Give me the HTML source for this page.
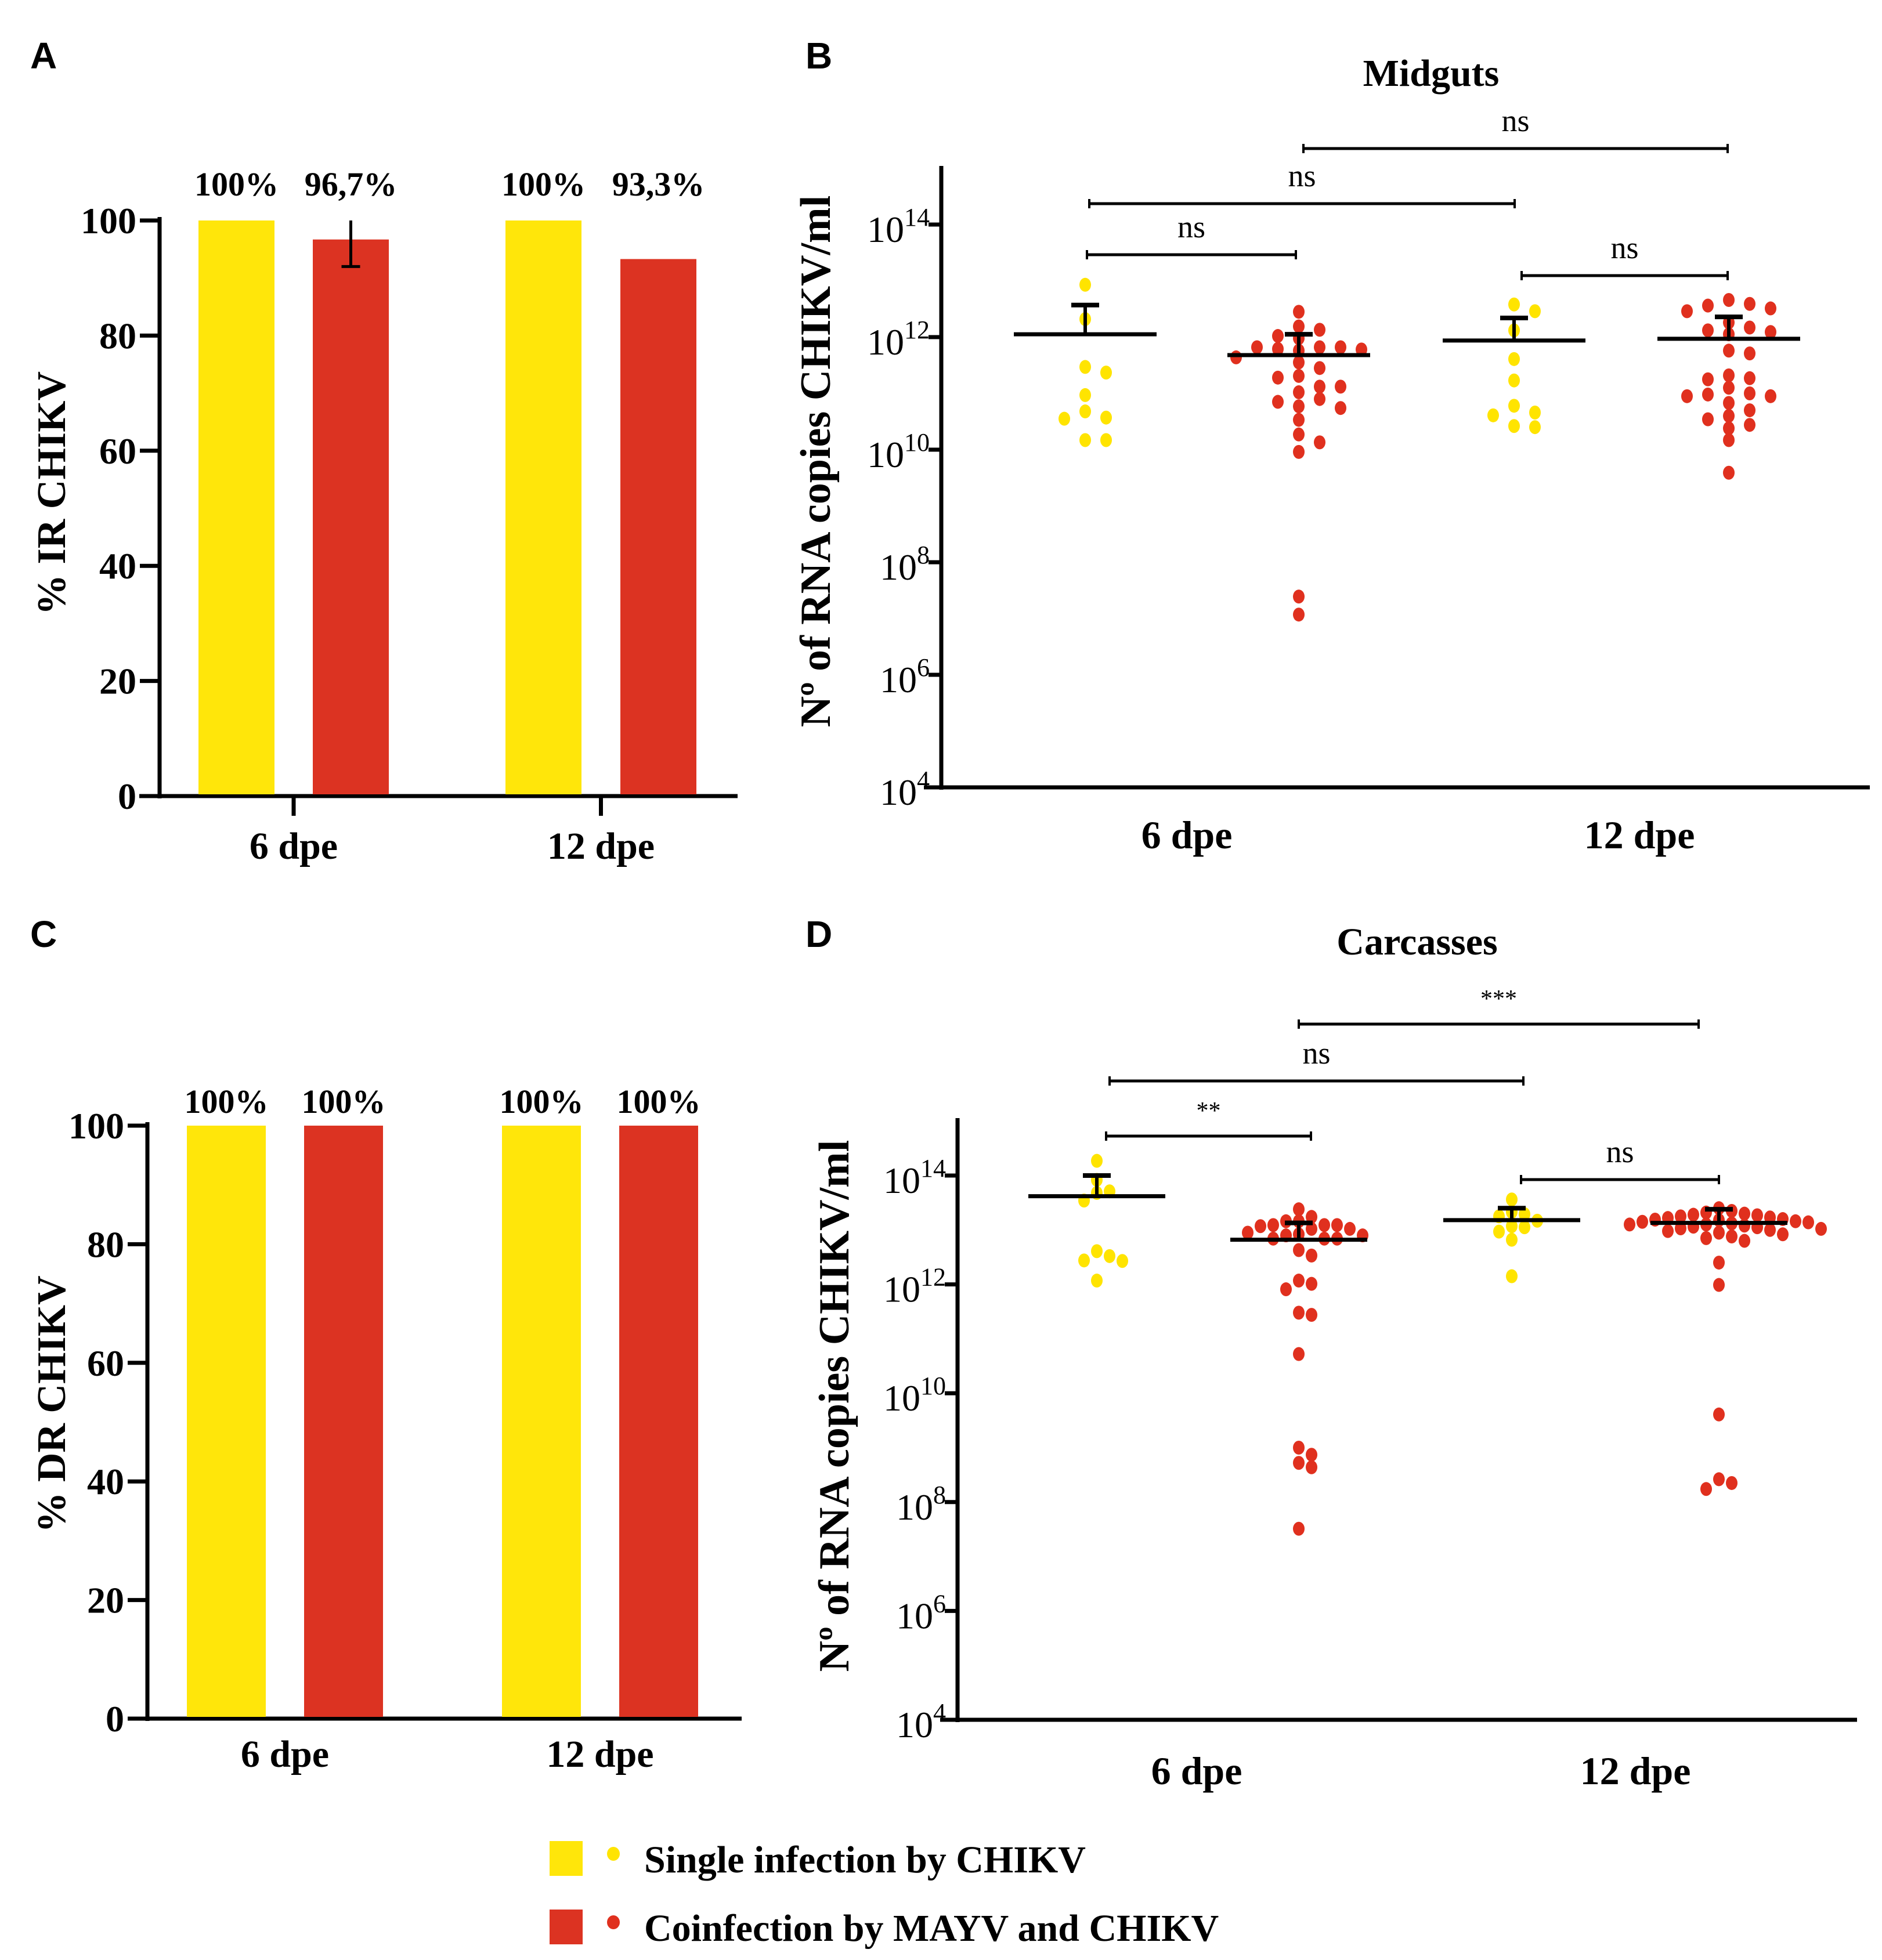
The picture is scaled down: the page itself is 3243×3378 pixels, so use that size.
<!DOCTYPE html>
<html><head><meta charset="utf-8"><style>
html,body{margin:0;padding:0;background:#fff;}
svg{display:block;}
text{font-family:"Liberation Serif",serif;}
text.sans{font-family:"Liberation Sans",sans-serif;}
</style></head><body>
<svg id="fig" width="3243" height="3378" viewBox="0 0 3243 3378" xmlns="http://www.w3.org/2000/svg"></svg>
<script>
// ---- Data ----
const barCategories = ["6 dpe", "12 dpe"];
const irSingle = [100, 100];
const irCoinf = [96.7, 93.3];
const irLabelsSingle = ["100%", "100%"];
const irLabelsCoinf = ["96,7%", "93,3%"];
const irCoinfErrLow = [92, null];
const drSingle = [100, 100];
const drCoinf = [100, 100];
const drLabelsSingle = ["100%", "100%"];
const drLabelsCoinf = ["100%", "100%"];
const pctTicks = [0, 20, 40, 60, 80, 100];
const logTicks = [4, 6, 8, 10, 12, 14];

const midSingle6 = [12.93, 12.32, 11.47, 11.37, 10.97, 10.68, 10.55, 10.57, 10.17, 10.17];
const midCoinf6 = [12.45, 12.13, 12.19, 11.98, 12.02, 11.82, 11.82, 11.78, 11.82, 11.76, 11.79, 11.64, 11.55, 11.45, 11.28, 11.31, 11.12, 11.12, 11.02, 10.90, 10.85, 10.74, 10.77, 10.53, 10.27, 10.13, 9.96, 7.39, 7.07];
const midSingle12 = [12.58, 12.46, 12.12, 11.61, 11.23, 10.78, 10.61, 10.66, 10.40, 10.42];
const midCoinf12 = [12.66, 12.51, 12.59, 12.56, 12.46, 12.26, 12.12, 12.05, 12.09, 12.17, 11.76, 11.71, 11.27, 11.25, 11.32, 10.95, 10.95, 10.98, 11.00, 11.10, 10.70, 10.83, 10.44, 10.54, 10.60, 10.38, 10.17, 9.59];
const midMeans = [12.05, 11.68, 11.94, 11.97];
const midSemTop = [12.57, 12.05, 12.34, 12.36];

const carSingle6 = [14.27, 13.92, 13.71, 13.68, 13.54, 12.52, 12.43, 12.44, 12.61, 12.07];
const carCoinf6 = [13.38, 13.24, 13.16, 13.16, 13.09, 13.09, 13.07, 13.09, 13.02, 13.02, 12.95, 12.92, 12.90, 12.90, 12.84, 12.84, 12.84, 12.63, 12.53, 12.01, 12.07, 11.91, 11.44, 11.48, 10.72, 9.00, 8.87, 8.72, 8.64, 7.51];
const carSingle12 = [13.56, 13.33, 13.29, 13.25, 13.17, 13.05, 13.07, 12.97, 12.82, 12.15];
const carCoinf12 = [13.40, 13.35, 13.30, 13.28, 13.25, 13.22, 13.20, 13.18, 13.16, 13.15, 13.14, 13.12, 13.10, 13.10, 13.08, 13.06, 13.05, 13.03, 13.02, 13.00, 12.98, 12.95, 12.92, 12.88, 12.85, 12.80, 13.32, 13.27, 13.23, 13.19, 12.40, 11.99, 9.61, 8.24, 8.42, 8.35];
const carMeans = [13.62, 12.82, 13.18, 13.13];
const carSemTop = [14.0, 13.13, 13.40, 13.38];

const YEL = "#FFE60A", RED = "#DC3322", DOTY = "#FFE400", DOTR = "#E0301E";
const svg = document.getElementById("fig");
const NS = "http://www.w3.org/2000/svg";
function mk(tag, attrs, parent) {
  const e = document.createElementNS(NS, tag);
  for (const k in attrs) e.setAttribute(k, attrs[k]);
  (parent || svg).appendChild(e);
  return e;
}
function txt(s, x, y, size, weight, anchor, parent) {
  const t = mk("text", {x: x, y: y, "font-size": size, "font-weight": weight, "text-anchor": anchor || "middle", fill: "#000"}, parent);
  t.textContent = s;
  return t;
}

// ---- Panel letters ----
[["A",52,118],["B",1388,118],["C",52,1632],["D",1388,1632]].forEach(p => {
  const t = mk("text", {x: p[1], y: p[2], "font-size": 64, "font-weight": "bold", "class": "sans"});
  
  
  t.textContent = p[0];
});

// ---- Bar panels ----
function barPanel(cfg) {
  const g = mk("g", {});
  
  
  const y = p => cfg.y0 - (p / 100) * (cfg.y0 - cfg.y100);
  const ya = mk("line", {x1: cfg.ax, y1: y(100) - 6, x2: cfg.ax, y2: cfg.y0 + 4, stroke: "#000", "stroke-width": 7}, g);
  
  
  const xa = mk("line", {x1: cfg.xl, y1: cfg.y0, x2: cfg.xr, y2: cfg.y0, stroke: "#000", "stroke-width": 7}, g);
  
  
  pctTicks.forEach(v => {
    mk("line", {x1: cfg.ax - 34, y1: y(v), x2: cfg.ax, y2: y(v), stroke: "#000", "stroke-width": 7}, g);
    const t = txt(String(v), cfg.ax - 40, y(v) + 22, 64, "bold", "end", g);
    
    
  });
  barCategories.forEach((c, i) => {
    const x1 = cfg.bx[i*2], x2 = cfg.bx[i*2+1];
    const b1 = mk("rect", {x: x1, y: y(cfg.single[i]), width: cfg.bw, height: y(0) - y(cfg.single[i]) - 3, fill: YEL}, g);
    
    
    const b2 = mk("rect", {x: x2, y: y(cfg.coinf[i]), width: cfg.bw, height: y(0) - y(cfg.coinf[i]) - 3, fill: RED}, g);
    
    
    const l1 = txt(cfg.lblS[i], x1 + cfg.bw/2, cfg.lblY, 58, "bold", "middle", g);
    
    
    const l2 = txt(cfg.lblC[i], x2 + cfg.bw/2, cfg.lblY, 58, "bold", "middle", g);
    
    
    if (cfg.err && cfg.err[i] != null) {
      const cx = x2 + cfg.bw/2;
      mk("line", {x1: cx, y1: y(100), x2: cx, y2: y(cfg.err[i]), stroke: "#000", "stroke-width": 5}, g);
      mk("line", {x1: cx - 16, y1: y(cfg.err[i]), x2: cx + 16, y2: y(cfg.err[i]), stroke: "#000", "stroke-width": 5}, g);
    }
    const cx = (x1 + x2 + cfg.bw) / 2;
    if (cfg.ticks) mk("line", {x1: cx, y1: cfg.y0, x2: cx, y2: cfg.y0 + 34, stroke: "#000", "stroke-width": 7}, g);
    const xl = txt(c, cx, cfg.catY, 66, "bold", "middle", g);
    
    
  });
  const yt = mk("text", {x: 0, y: 0, "font-size": 70, "font-weight": "bold", "text-anchor": "middle", transform: `translate(${cfg.titleX},${cfg.titleY}) rotate(-90)`}, g);
  yt.textContent = cfg.title;
  
  
}
barPanel({name: "panel-a-ir-chart", ax: 275, y0: 1372, y100: 380, xl: 240, xr: 1271, bx: [342, 539, 871, 1069], bw: 131,
  single: irSingle, coinf: irCoinf, lblS: irLabelsSingle, lblC: irLabelsCoinf, err: irCoinfErrLow, lblY: 337, catY: 1480, ticks: true,
  title: "% IR CHIKV", titleX: 112, titleY: 850});
barPanel({name: "panel-c-dr-chart", ax: 254, y0: 2962, y100: 1940, xl: 228, xr: 1278, bx: [322, 524, 865, 1067], bw: 136,
  single: drSingle, coinf: drCoinf, lblS: drLabelsSingle, lblC: drLabelsCoinf, err: null, lblY: 1918, catY: 3045, ticks: false,
  title: "% DR CHIKV", titleX: 112, titleY: 2420});

// ---- Scatter panels ----
function swarm(vals, cx, ys, step, r) {
  const placed = [];
  const order = vals.map((v, i) => i).sort((a, b) => vals[b] - vals[a]);
  const out = new Array(vals.length);
  order.forEach(i => {
    const yy = ys(vals[i]);
    for (let k = 0; k < 40; k++) {
      const off = k === 0 ? 0 : (k % 2 ? 1 : -1) * Math.ceil(k / 2) * step;
      const xx = cx + off;
      if (!placed.some(p => Math.hypot(p[0] - xx, p[1] - yy) < 2 * r)) { placed.push([xx, yy]); out[i] = [xx, yy]; break; }
    }
  });
  return out;
}
function scatterPanel(cfg) {
  const g = mk("g", {});
  
  
  const y = v => cfg.y4 - (v - 4) * cfg.dec;
  const ya = mk("line", {x1: cfg.ax, y1: cfg.atop, x2: cfg.ax, y2: y(4) + 4, stroke: "#000", "stroke-width": 7}, g);
  
  
  const xa = mk("line", {x1: cfg.ax - 30, y1: y(4), x2: cfg.xr, y2: y(4), stroke: "#000", "stroke-width": 7}, g);
  
  
  logTicks.forEach(v => {
    mk("line", {x1: cfg.ax - 22, y1: y(v), x2: cfg.ax, y2: y(v), stroke: "#000", "stroke-width": 7}, g);
    const t = mk("text", {x: cfg.ax - 20, y: y(v) + 30, "font-size": 64, "text-anchor": "end"}, g);
    
    
    const base = document.createElementNS(NS, "tspan"); base.textContent = "10"; t.appendChild(base);
    const sup = document.createElementNS(NS, "tspan"); sup.setAttribute("dy", -28); sup.setAttribute("font-size", 44); sup.textContent = String(v); t.appendChild(sup);
  });
  const groups = [cfg.s6, cfg.c6, cfg.s12, cfg.c12];
  groups.forEach((vals, gi) => {
    const col = gi % 2 ? DOTR : DOTY;
    const pts = swarm(vals, cfg.gx[gi], y, cfg.step, 10);
    pts.forEach(p => {
      const c = mk("ellipse", {cx: p[0], cy: p[1], rx: 10, ry: 12, fill: col}, g);
      
      
    });
    const m = cfg.means[gi], s = cfg.sem[gi], cx = cfg.gx[gi];
    const ml = mk("line", {x1: cx - cfg.mw, y1: y(m), x2: cx + cfg.mw, y2: y(m), stroke: "#000", "stroke-width": 7}, g);
    
    
    mk("line", {x1: cx, y1: y(m), x2: cx, y2: y(s), stroke: "#000", "stroke-width": 6}, g);
    mk("line", {x1: cx - 24, y1: y(s), x2: cx + 24, y2: y(s), stroke: "#000", "stroke-width": 8}, g);
  });
  cfg.brackets.forEach(b => {
    const bg = mk("g", {}, g);
    
    
    mk("line", {x1: b[0], y1: b[2], x2: b[1], y2: b[2], stroke: "#000", "stroke-width": 5}, bg);
    mk("line", {x1: b[0], y1: b[2] - 8, x2: b[0], y2: b[2] + 8, stroke: "#000", "stroke-width": 4}, bg);
    mk("line", {x1: b[1], y1: b[2] - 8, x2: b[1], y2: b[2] + 8, stroke: "#000", "stroke-width": 4}, bg);
    txt(b[3], (b[0] + b[1]) / 2, b[2] - 30, b[3] === "ns" ? 54 : 42, "normal", "middle", bg);
  });
  cfg.cats.forEach((c, i) => {
    const t = txt(c, cfg.catX[i], cfg.catY, 68, "bold", "middle", g);
    
    
  });
  const ti = txt(cfg.title, cfg.titleX, cfg.titleYpos, 66, "bold", "middle", g);
  
  
  const yt = mk("text", {x: 0, y: 0, "font-size": 74, "font-weight": "bold", "text-anchor": "middle", transform: `translate(${cfg.ytX},${cfg.ytY}) rotate(-90)`}, g);
  yt.textContent = "Nº of RNA copies CHIKV/ml";
  
  
}
scatterPanel({name: "panel-b-midguts-chart", ax: 1622, atop: 286, y4: 1357, dec: 97, xr: 3222,
  s6: midSingle6, c6: midCoinf6, s12: midSingle12, c12: midCoinf12, means: midMeans, sem: midSemTop,
  gx: [1870, 2238, 2609, 2979], step: 36, mw: 123,
  brackets: [[2246, 2977, 256, "ns"], [1877, 2610, 351, "ns"], [1873, 2233, 439, "ns"], [2622, 2977, 475, "ns"]],
  cats: barCategories, catX: [2045, 2825], catY: 1462, title: "Midguts", titleX: 2466, titleYpos: 148, ytX: 1430, ytY: 795});
scatterPanel({name: "panel-d-carcasses-chart", ax: 1650, atop: 1927, y4: 2964, dec: 93.8, xr: 3200,
  s6: carSingle6, c6: carCoinf6, s12: carSingle12, c12: carCoinf12, means: carMeans, sem: carSemTop,
  gx: [1890, 2238, 2605, 2962], step: 22, mw: 118,
  brackets: [[2238, 2927, 1765, "***"], [1912, 2625, 1863, "ns"], [1906, 2259, 1958, "**"], [2621, 2962, 2033, "ns"]],
  cats: barCategories, catX: [2062, 2818], catY: 3075, title: "Carcasses", titleX: 2442, titleYpos: 1645, ytX: 1462, ytY: 2423});

// ---- Legend ----
const lg = mk("g", {});


[[YEL, DOTY, 3173, "Single infection by CHIKV"], [RED, DOTR, 3291, "Coinfection by MAYV and CHIKV"]].forEach(e => {
  const eg = mk("g", {}, lg);
  
  
  mk("rect", {x: 947, y: e[2], width: 57, height: 60, fill: e[0]}, eg);
  mk("ellipse", {cx: 1057, cy: e[2] + 22, rx: 11, ry: 12, fill: e[1]}, eg);
  txt(e[3], 1110, e[2] + 54, 66, "bold", "start", eg);
});
</script>
</body></html>
